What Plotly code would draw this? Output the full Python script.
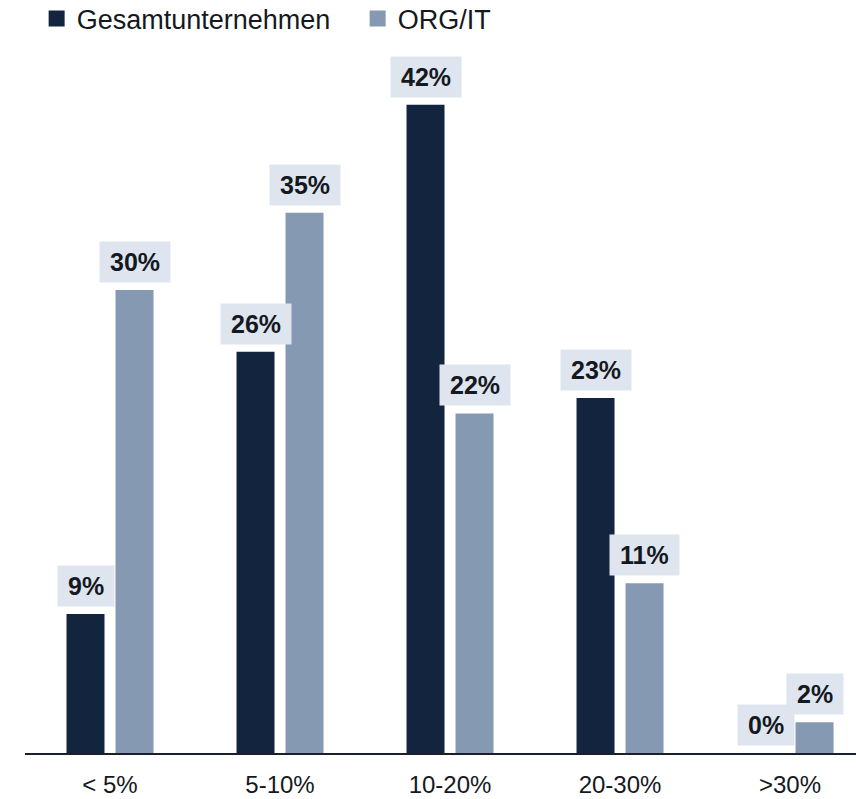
import plotly.graph_objects as go

categories = ["< 5%", "5-10%", "10-20%", "20-30%", ">30%"]
gesamt = [9, 26, 42, 23, 0]
org_it = [30, 35, 22, 11, 2]
series_names = ["Gesamtunternehmen", "ORG/IT"]

dark = "#13253e"
light = "#8599b3"
label_bg = "#dfe5ee"
text_col = "#141821"
font_family = "Liberation Sans, Arial, sans-serif"

fig = go.Figure()
fig.add_trace(go.Bar(x=categories, y=gesamt, name=series_names[0], showlegend=False,
                     marker=dict(color=dark, line=dict(width=0))))
fig.add_trace(go.Bar(x=categories, y=org_it, name=series_names[1], showlegend=False,
                     marker=dict(color=light, line=dict(width=0))))

# legend entries with larger square swatches
for name, col in zip(series_names, (dark, light)):
    fig.add_trace(go.Scatter(x=[None], y=[None], mode="markers", name=name,
                             marker=dict(symbol="square", size=16, color=col)))

# value labels in shaded boxes above each bar
slot_px = 49
for i, cat in enumerate(categories):
    for vals, shift in ((gesamt, -slot_px / 2), (org_it, slot_px / 2)):
        fig.add_annotation(
            x=cat, y=vals[i], xref="x", yref="y",
            text=f"<b>{vals[i]}%</b>", showarrow=False,
            xanchor="center", yanchor="bottom",
            xshift=shift, yshift=7, height=20,
            bgcolor=label_bg, borderpad=10,
            font=dict(family=font_family, size=25, color=text_col),
        )

fig.update_layout(
    width=856, height=799,
    margin=dict(l=25, r=0, t=40, b=46, autoexpand=False),
    paper_bgcolor="white", plot_bgcolor="white",
    barmode="group", bargap=0.4235, bargroupgap=0.2245,
    font=dict(family=font_family, size=24, color=text_col),
    showlegend=True,
    legend=dict(orientation="h", x=0.014, xanchor="left",
                yref="paper", y=1.064, yanchor="top",
                font=dict(family=font_family, size=27, color=text_col),
                itemsizing="trace", entrywidth=276, entrywidthmode="pixels",
                tracegroupgap=0, traceorder="normal"),
    xaxis=dict(type="category", range=[-0.5, 4.388], showgrid=False,
               showline=True, linecolor="#1a1f2b", linewidth=2,
               ticks="", tickfont=dict(size=24, color=text_col), ticklabelstandoff=9),
    yaxis=dict(range=[0, 46.2], visible=False, fixedrange=True),
)

fig.write_html("out.html")
